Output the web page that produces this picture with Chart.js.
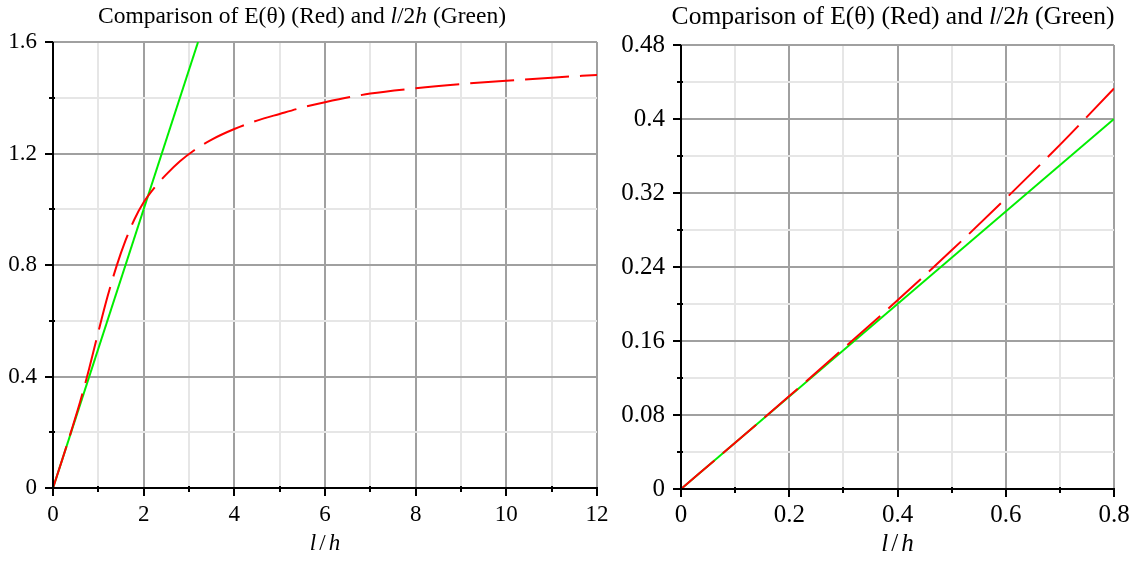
<!DOCTYPE html>
<html lang="en">
<head>
    <meta charset="UTF-8">
    <title>E(theta) vs l/2h</title>
    <script src="https://cdn.jsdelivr.net/npm/chart.js"></script>
    <style>
        body { margin: 0; background: #fff; }
        .wrap { position: relative; width: 1148px; height: 561px; }
        #leftChart { position: absolute; left: 0; top: 0; }
        #rightChart { position: absolute; left: 615px; top: 0; }
    </style>
</head>
<body>
    <div class="wrap">
        <canvas id="leftChart" width="615" height="561"></canvas>
        <canvas id="rightChart" width="533" height="561"></canvas>
    </div>

    <script>
        // E(theta) over the full range of l/h
        const fullX = [0, 0.2, 0.4, 0.6, 0.8, 1.0, 1.2, 1.4, 1.6, 1.8, 2.0, 2.25, 2.5, 2.8, 3.1, 3.5, 4, 4.5, 5, 5.5, 6, 7, 8, 9, 10, 11, 12];
        const fullE = [0, 0.100, 0.203, 0.310, 0.430, 0.560, 0.685, 0.795, 0.888, 0.965, 1.025, 1.080, 1.125, 1.172, 1.210, 1.250, 1.288, 1.318, 1.342, 1.365, 1.384, 1.415, 1.434, 1.449, 1.461, 1.472, 1.482];
        // l/2h over the full range (straight line, leaves the top at 1.6)
        const fullGreenX = [0, 3.2];
        const fullGreenY = [0, 1.6];

        // close-up near the origin
        const zoomX = [0, 0.1, 0.2, 0.3, 0.4, 0.5, 0.6, 0.7, 0.8];
        const zoomE = [0, 0.050, 0.1005, 0.1518, 0.204, 0.258, 0.314, 0.372, 0.433];
        const zoomGreenX = [0, 0.8];
        const zoomGreenY = [0, 0.4];

        const SERIF = '"Liberation Serif", "Times New Roman", serif';
        const MAJOR = '#a0a0a0';
        const MINOR = '#e6e6e6';

        function pts(xs, ys) {
            return xs.map((x, i) => ({ x: x, y: ys[i] }));
        }

        function onStep(v, step) {
            const r = v / step;
            return Math.abs(r - Math.round(r)) < 1e-6;
        }

        function fmt(v) {
            return String(parseFloat(v.toFixed(3)));
        }

        // draws text made of upright / italic pieces, centred on cx
        function drawRich(ctx, segs, cx, baseline, size) {
            let total = 0;
            segs.forEach(s => {
                ctx.font = (s.i ? 'italic ' : '') + size + 'px ' + SERIF;
                s.w = ctx.measureText(s.t).width + (s.pad || 0) * 2;
                total += s.w;
            });
            let x = cx - total / 2;
            ctx.fillStyle = '#000';
            ctx.textAlign = 'left';
            ctx.textBaseline = 'alphabetic';
            segs.forEach(s => {
                ctx.font = (s.i ? 'italic ' : '') + size + 'px ' + SERIF;
                ctx.fillText(s.t, x + (s.pad || 0), baseline);
                x += s.w;
            });
        }

        // black axes, tick marks, title and x-axis label
        const frame = {
            id: 'frame',
            afterDraw(chart, args, opts) {
                const { ctx, chartArea: a, scales } = chart;
                const x = scales.x, y = scales.y;
                ctx.save();
                ctx.strokeStyle = '#000';
                ctx.lineWidth = 2;
                ctx.beginPath();
                x.ticks.forEach(t => {
                    const px = Math.round(x.getPixelForValue(t.value));
                    const major = onStep(t.value, opts.xMajor);
                    ctx.moveTo(px, a.bottom - (major ? 0 : 2));
                    ctx.lineTo(px, a.bottom + (major ? 8 : 4));
                });
                y.ticks.forEach(t => {
                    const py = Math.round(y.getPixelForValue(t.value));
                    const major = onStep(t.value, opts.yMajor);
                    ctx.moveTo(a.left + (major ? 0 : 2), py);
                    ctx.lineTo(a.left - (major ? 8 : 4), py);
                });
                ctx.stroke();

                ctx.beginPath();
                ctx.moveTo(a.left, a.top);
                ctx.lineTo(a.left, a.bottom);
                ctx.lineTo(a.right + 1, a.bottom);
                ctx.stroke();

                drawRich(ctx, [
                    { t: 'Comparison of E(\u03b8) (Red) and ' },
                    { t: 'l', i: true },
                    { t: '/2' },
                    { t: 'h', i: true },
                    { t: ' (Green)' }
                ], opts.titleX, opts.titleY, opts.titleSize);

                drawRich(ctx, [
                    { t: 'l', i: true },
                    { t: '/', pad: 3 },
                    { t: 'h', i: true }
                ], (a.left + a.right) / 2, opts.labelY, opts.fontSize);
                ctx.restore();
            }
        };

        function makeChart(id, cfg) {
            return new Chart(document.getElementById(id), {
                type: 'line',
                data: {
                    datasets: [
                        {
                            label: 'E(theta)',
                            data: pts(cfg.ex, cfg.ey),
                            borderColor: '#ff0000',
                            borderWidth: 2,
                            borderDash: [44, 11],
                            pointRadius: 0,
                            cubicInterpolationMode: 'monotone'
                        },
                        {
                            label: 'l/2h',
                            data: pts(cfg.gx, cfg.gy),
                            borderColor: '#00ee00',
                            borderWidth: 2,
                            pointRadius: 0
                        }
                    ]
                },
                options: {
                    responsive: false,
                    animation: false,
                    events: [],
                    layout: { padding: cfg.padding },
                    plugins: {
                        legend: { display: false },
                        tooltip: { enabled: false },
                        frame: {
                            xMajor: cfg.xMajor, yMajor: cfg.yMajor,
                            titleX: cfg.titleX, titleY: cfg.titleY, titleSize: cfg.titleSize,
                            labelY: cfg.labelY, fontSize: cfg.fontSize
                        }
                    },
                    scales: {
                        x: {
                            type: 'linear',
                            min: 0,
                            max: cfg.xMax,
                            // fixed axis band, label overhang handled by layout padding
                            afterFit: s => {
                                s.height = cfg.xHeight;
                                s.paddingLeft = 0;
                                s.paddingRight = 0;
                            },
                            border: { display: false },
                            grid: {
                                drawTicks: false,
                                lineWidth: 2,
                                color: c => c.tick.value === 0 ? 'rgba(0,0,0,0)' :
                                    (onStep(c.tick.value, cfg.xMajor) ? MAJOR : MINOR)
                            },
                            ticks: {
                                stepSize: cfg.xStep,
                                padding: cfg.xPad,
                                maxRotation: 0,
                                autoSkip: false,
                                color: '#000',
                                font: { family: SERIF, size: cfg.fontSize },
                                callback: v => onStep(v, cfg.xMajor) ? fmt(v) : ''
                            }
                        },
                        y: {
                            min: 0,
                            max: cfg.yMax,
                            afterFit: s => {
                                s.width = cfg.yWidth;
                                s.paddingTop = 0;
                                s.paddingBottom = 0;
                            },
                            border: { display: false },
                            grid: {
                                drawTicks: false,
                                lineWidth: 2,
                                color: c => c.tick.value === 0 ? 'rgba(0,0,0,0)' :
                                    (onStep(c.tick.value, cfg.yMajor) ? MAJOR : MINOR)
                            },
                            ticks: {
                                stepSize: cfg.yStep,
                                padding: 16,
                                autoSkip: false,
                                color: '#000',
                                font: { family: SERIF, size: cfg.fontSize },
                                callback: v => onStep(v, cfg.yMajor) ? fmt(v) : ''
                            }
                        }
                    }
                },
                plugins: [frame]
            });
        }

        makeChart('leftChart', {
            ex: fullX, ey: fullE, gx: fullGreenX, gy: fullGreenY,
            xMax: 12, xStep: 1, xMajor: 2,
            yMax: 1.6, yStep: 0.2, yMajor: 0.4,
            padding: { top: 42, right: 18, bottom: 0, left: 0 },
            xHeight: 73, yWidth: 53, xPad: 13,
            fontSize: 23, titleSize: 23.5, titleX: 302, titleY: 23, labelY: 550
        });

        makeChart('rightChart', {
            ex: zoomX, ey: zoomE, gx: zoomGreenX, gy: zoomGreenY,
            xMax: 0.8, xStep: 0.1, xMajor: 0.2,
            yMax: 0.48, yStep: 0.04, yMajor: 0.08,
            padding: { top: 45, right: 34, bottom: 0, left: 0 },
            xHeight: 72, yWidth: 66, xPad: 11,
            fontSize: 25, titleSize: 25.5, titleX: 278, titleY: 24, labelY: 551
        });
    </script>
</body>
</html>
